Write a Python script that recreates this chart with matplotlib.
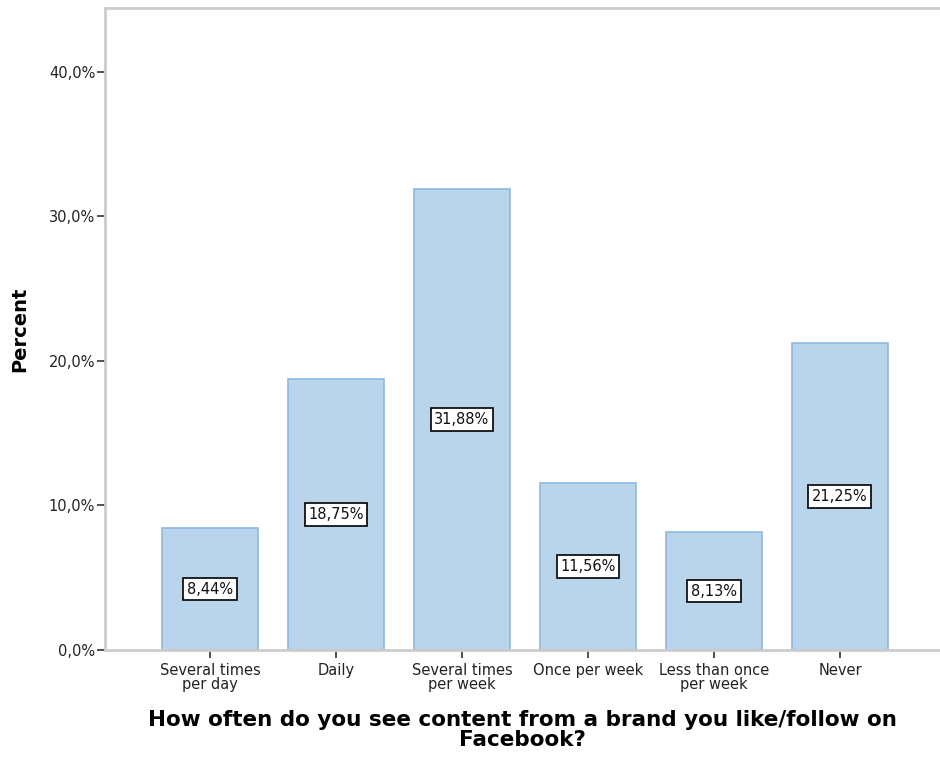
import matplotlib
matplotlib.use("Agg")
import matplotlib.pyplot as plt
from matplotlib.ticker import FuncFormatter

categories = ["Several times\nper day", "Daily", "Several times\nper week",
              "Once per week", "Less than once\nper week", "Never"]
percents = [8.44, 18.75, 31.88, 11.56, 8.13, 21.25]
yticks = [0, 10, 20, 30, 40]

plt.rcParams["font.family"] = ["DejaVu Sans"]

fig = plt.figure(figsize=(9.4, 7.6), dpi=100)
ax = fig.add_axes([0.1117, 0.1447, 0.8883, 0.8447])

x = list(range(len(categories)))
ax.bar(x, percents, width=0.76, color="#b8d5ec", edgecolor="#8fb9dd", linewidth=1.2, zorder=2)

for xi, v in zip(x, percents):
    ax.text(xi, v / 2, f"{v:.2f}%".replace(".", ","), ha="center", va="center",
            fontsize=10.5, color="#111111", zorder=3,
            bbox=dict(boxstyle="square,pad=0.25", facecolor="white", edgecolor="black", linewidth=1.2))

ax.set_xlim(-0.833, 5.794)
ax.set_ylim(0, 44.4)
ax.set_yticks(yticks)
ax.yaxis.set_major_formatter(FuncFormatter(lambda v, p: f"{v:.1f}%".replace(".", ",")))
ax.set_xticks(x)
ax.set_xticklabels(categories, fontsize=10.5, color="#222222", linespacing=0.95)
ax.tick_params(axis="y", labelsize=10.5, labelcolor="#222222", length=6, width=1.2, color="#333333", pad=1)
ax.tick_params(axis="x", length=6, width=1.2, color="#333333", pad=3)

for side in ["left", "bottom", "top"]:
    ax.spines[side].set_color("#cccccc")
    ax.spines[side].set_linewidth(2)
ax.spines["right"].set_visible(False)

ax.set_ylabel("Percent", fontsize=14, fontweight="bold", labelpad=14)
ax.set_xlabel("How often do you see content from a brand you like/follow on\nFacebook?",
              fontsize=15.5, fontweight="bold", labelpad=13, linespacing=0.98)

fig.savefig("out.png", dpi=100)
